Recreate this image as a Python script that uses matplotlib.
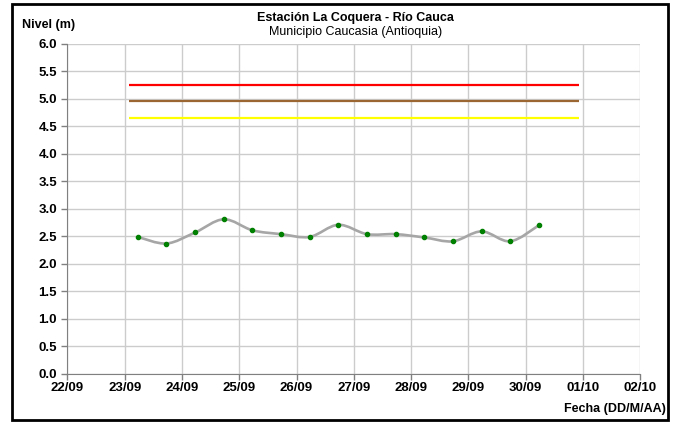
import numpy as np
import pandas as pd
import matplotlib
matplotlib.use('Agg')
import matplotlib.pyplot as plt
import matplotlib.dates as mdates
from matplotlib.path import Path
from matplotlib.patches import PathPatch, Rectangle

plt.rcParams['font.family'] = ['Liberation Sans', 'DejaVu Sans']

# level readings (two per day)
times = pd.to_datetime([
    '2012-09-23 05:30', '2012-09-23 17:30', '2012-09-24 05:30', '2012-09-24 17:30',
    '2012-09-25 05:30', '2012-09-25 17:30', '2012-09-26 05:30', '2012-09-26 17:30',
    '2012-09-27 05:30', '2012-09-27 17:30', '2012-09-28 05:30', '2012-09-28 17:30',
    '2012-09-29 05:30', '2012-09-29 17:30', '2012-09-30 05:30',
])
levels = [2.49, 2.37, 2.57, 2.81, 2.61, 2.54, 2.49, 2.71, 2.54, 2.54,
          2.48, 2.41, 2.59, 2.41, 2.70]

# alert thresholds
alert_levels = [5.25, 4.95, 4.65]
alert_colors = ['#ff0000', '#9c6633', '#ffff00']
alert_start = pd.Timestamp('2012-09-23 01:40')
alert_end = pd.Timestamp('2012-09-30 22:20')

x_start = pd.Timestamp('2012-09-22')
x_end = pd.Timestamp('2012-10-02')

fig = plt.figure(figsize=(6.74, 4.24), dpi=100)
ax = fig.add_axes([0.100, 0.118, 0.850, 0.779])

# smoothed line (Excel-like bezier through points)
xs = mdates.date2num(times)
ys = np.array(levels)
pts = np.column_stack([xs, ys])
verts = [pts[0]]
codes = [Path.MOVETO]
n = len(pts)
for i in range(n - 1):
    p0 = pts[i - 1] if i > 0 else pts[i]
    p1 = pts[i]
    p2 = pts[i + 1]
    p3 = pts[i + 2] if i + 2 < n else pts[i + 1]
    c1 = p1 + (p2 - p0) / 6.0
    c2 = p2 - (p3 - p1) / 6.0
    verts += [c1, c2, p2]
    codes += [Path.CURVE4] * 3
ax.add_patch(PathPatch(Path(verts, codes), facecolor='none',
                       edgecolor='#a6a6a6', lw=1.9, zorder=3))
ax.plot(times, levels, 'o', color='#008000', ms=3, zorder=4)

for lv, c in zip(alert_levels, alert_colors):
    ax.plot([alert_start, alert_end], [lv, lv], color=c, lw=1.6, zorder=3,
            solid_capstyle='butt')

ax.set_xlim(x_start, x_end)
ax.set_ylim(0, 6)
ax.xaxis.set_major_locator(mdates.DayLocator())
ax.xaxis.set_major_formatter(mdates.DateFormatter('%d/%m'))
ax.set_yticks(np.arange(0, 6.01, 0.5))
ax.yaxis.set_major_formatter(matplotlib.ticker.FormatStrFormatter('%.1f'))
ax.grid(True, color='#cccccc', lw=1)
ax.set_axisbelow(True)
for s in ['top', 'right']:
    ax.spines[s].set_visible(False)
for s in ['left', 'bottom']:
    ax.spines[s].set_color('#808080')
ax.tick_params(colors='#808080', length=4, width=1, labelcolor='black',
               labelsize=9.5)
ax.tick_params(axis='x', pad=1.5)
for lab in ax.get_xticklabels() + ax.get_yticklabels():
    lab.set_fontweight('bold')

fig.text(0.527, 0.957, 'Estación La Coquera - Río Cauca', ha='center',
         va='center', fontsize=9, fontweight='bold')
fig.text(0.527, 0.925, 'Municipio Caucasia (Antioquia)', ha='center',
         va='center', fontsize=9)
fig.text(0.033, 0.942, 'Nivel (m)', ha='left', va='center', fontsize=9,
         fontweight='bold')
fig.text(0.988, 0.036, 'Fecha (DD/M/AA)', ha='right', va='center',
         fontsize=9, fontweight='bold')

fig.patches.append(Rectangle((12 / 674, 4 / 424), 656 / 674, 416 / 424,
                             transform=fig.transFigure, fill=False,
                             edgecolor='black', lw=2))

fig.savefig('out.png', dpi=100)
